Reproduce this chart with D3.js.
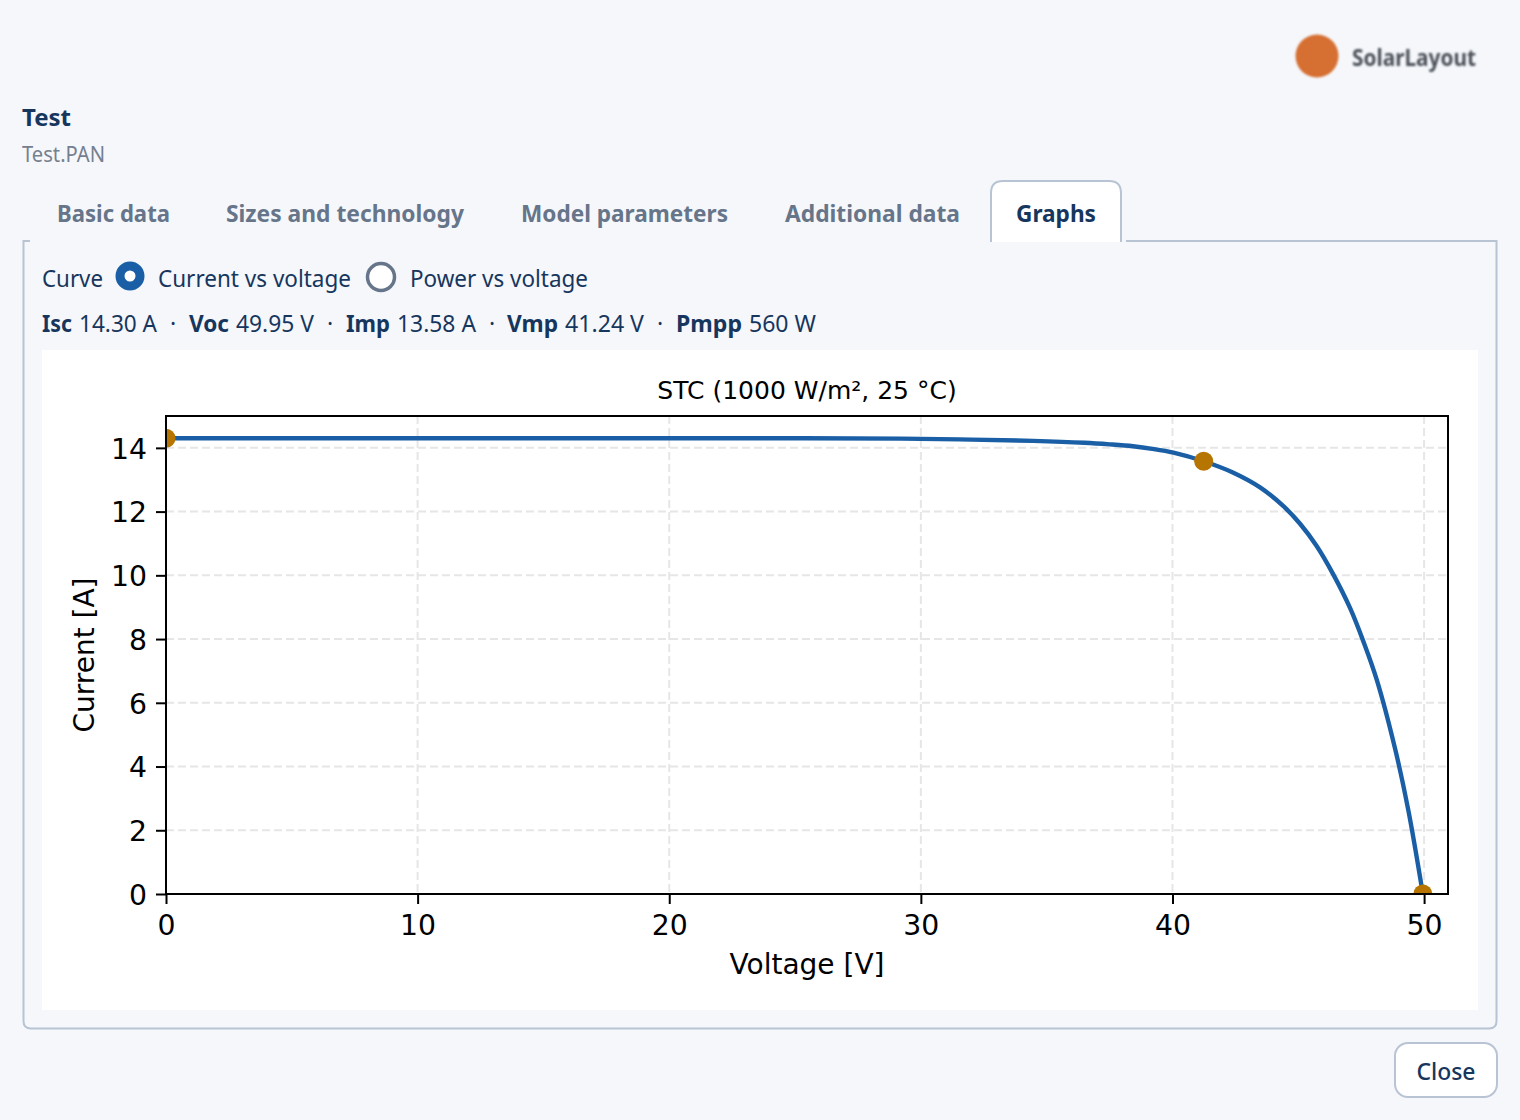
<!DOCTYPE html>
<html><head><meta charset="utf-8">
<script src="https://cdn.jsdelivr.net/npm/d3@7"></script>
<style>
html,body{margin:0;padding:0;background:#f5f7fb;overflow:hidden}
svg{display:block}
.ui{font-family:"Noto Sans",sans-serif}
.mpl{font-family:"DejaVu Sans",sans-serif;fill:#000}
</style></head><body>
<svg id="c" width="1520" height="1120"></svg>
<script>
const voltage=[0,5,10,15,20,25,29.2,32,34.46,36.5,37.5,38.43,39.2,40.04,41.24,42.42,43.48,44.41,45.07,45.73,46.39,47.06,47.59,48.12,48.85,49.38,49.95];
const current=[14.30,14.30,14.30,14.30,14.30,14.30,14.29,14.26,14.22,14.16,14.11,14.05,13.97,13.85,13.58,13.22,12.76,12.17,11.62,10.92,10.03,8.97,7.92,6.72,4.55,2.6,0];
const mppV=[0,41.24,49.95];
const mppI=[14.30,13.58,0];
const xTicks=[0,10,20,30,40,50];
const yTicks=[0,2,4,6,8,10,12,14];
const tabs=["Basic data","Sizes and technology","Model parameters","Additional data","Graphs"];
const stats=[["Isc","14.30 A"],["Voc","49.95 V"],["Imp","13.58 A"],["Vmp","41.24 V"],["Pmpp","560 W"]];
const svg=d3.select("#c");
const navy="#17365d",grey="#667589",border="#b8c4d4";
function t(x,y,s,size,weight,fill,len,anchor){
  const n=svg.append("text").attr("class","ui").attr("x",x).attr("y",y).attr("font-size",size)
    .attr("font-weight",weight||400).attr("fill",fill||navy).attr("text-anchor",anchor||"start").text(s);
  if(len)n.attr("textLength",len).attr("lengthAdjust","spacingAndGlyphs");
  return n;
}
// logo
const defs=svg.append("defs");
defs.append("filter").attr("id","b").append("feGaussianBlur").attr("stdDeviation",0.9);
svg.append("circle").attr("cx",1317).attr("cy",56).attr("r",21.5).attr("fill","#d57033").attr("filter","url(#b)");
t(1352,66,"SolarLayout",23,700,"#4a4f57",124).attr("style","filter:blur(.9px)");
// heading
t(22,126,"Test",24,700,navy,49);
t(22,162,"Test.PAN",21,400,"#75808f",83);
// panel
svg.append("path").attr("fill","none").attr("stroke",border).attr("stroke-width",2)
  .attr("d","M30 241H23.5V1021Q23.5 1028.5 31 1028.5H1489Q1496.5 1028.5 1496.5 1021V241H1126");
// tabs
const tabX=[57,226,521,785,1016],tabW=[113,238,207,175,80];
svg.append("path").attr("fill","#fff").attr("stroke",border).attr("stroke-width",2)
  .attr("d","M991 242V193Q991 181 1003 181H1109Q1121 181 1121 193V242");
tabs.forEach((s,i)=>t(tabX[i],222,s,23,700,i===4?navy:grey,tabW[i]));
// radios
t(42,287,"Curve",23,400,navy,61);
svg.append("circle").attr("cx",130).attr("cy",276).attr("r",10).attr("fill","#fff").attr("stroke","#1a5fa6").attr("stroke-width",9);
t(158,287,"Current vs voltage",23,400,navy,193);
svg.append("circle").attr("cx",381).attr("cy",277).attr("r",13.5).attr("fill","#fff").attr("stroke",grey).attr("stroke-width",3.5);
t(410,287,"Power vs voltage",23,400,navy,178);
// stats
const sx=[[42,30,79,78],[189,40,236,78],[346,44,397,79],[507,51,565,79],[676,66,749,67]];
stats.forEach((d,i)=>{
  t(sx[i][0],332,d[0],23,700,navy,sx[i][1]);
  t(sx[i][2],332,d[1],23,400,navy,sx[i][3]);
  if(i<4)t(sx[i][2]+sx[i][3]+16,332,"·",23,400,navy,null,"middle");
});
// chart
svg.append("rect").attr("x",42).attr("y",350).attr("width",1436).attr("height",660).attr("fill","#fff");
const x=d3.scaleLinear().domain([0,50.95]).range([166,1448]);
const y=d3.scaleLinear().domain([0,15]).range([894,416]);
defs.append("clipPath").attr("id","p").append("rect").attr("x",166).attr("y",416).attr("width",1282).attr("height",478);
const g=svg.append("g").attr("clip-path","url(#p)");
g.selectAll("line.gx").data(xTicks).join("line").attr("x1",d=>x(d)).attr("x2",d=>x(d)).attr("y1",416).attr("y2",894)
  .attr("stroke","#e6e6e6").attr("stroke-width",2).attr("stroke-dasharray","8 4");
g.selectAll("line.gy").data(yTicks).join("line").attr("y1",d=>y(d)).attr("y2",d=>y(d)).attr("x1",166).attr("x2",1448)
  .attr("stroke","#e6e6e6").attr("stroke-width",2).attr("stroke-dasharray","8 4");
const pts=voltage.map((v,i)=>[v,current[i]]);
g.append("path").attr("fill","none").attr("stroke","#1a5fa6").attr("stroke-width",4.4)
  .attr("d",d3.line().x(d=>x(d[0])).y(d=>y(d[1])).curve(d3.curveCatmullRom.alpha(0.5))(pts));
g.selectAll("circle").data(mppV).join("circle").attr("cx",d=>x(d)).attr("cy",(d,i)=>y(mppI[i])).attr("r",9.5).attr("fill","#b57500");
const ax=svg.append("g").attr("transform","translate(0,894)").call(d3.axisBottom(x).tickValues(xTicks).tickSize(10).tickSizeOuter(0).tickPadding(11));
const ay=svg.append("g").attr("transform","translate(166,0)").call(d3.axisLeft(y).tickValues(yTicks).tickSize(10).tickSizeOuter(0).tickPadding(9));
[ax,ay].forEach(a=>{a.select(".domain").remove();a.selectAll("line").attr("stroke","#000").attr("stroke-width",2);
  a.selectAll("text").attr("class","mpl").attr("font-size",28.3).attr("fill","#000");});
ay.selectAll("text").attr("dy","0.36em");
svg.append("rect").attr("x",166).attr("y",416).attr("width",1282).attr("height",478).attr("fill","none").attr("stroke","#000").attr("stroke-width",2);
svg.append("text").attr("class","mpl").attr("x",807).attr("y",399).attr("text-anchor","middle").attr("font-size",25).text("STC (1000 W/m², 25 °C)");
svg.append("text").attr("class","mpl").attr("x",807).attr("y",974).attr("text-anchor","middle").attr("font-size",28).text("Voltage [V]");
svg.append("text").attr("class","mpl").attr("transform","translate(94,655) rotate(-90)").attr("text-anchor","middle").attr("font-size",28).text("Current [A]");
// close
svg.append("rect").attr("x",1395).attr("y",1043).attr("width",102).attr("height",54).attr("rx",13).attr("fill","#fff").attr("stroke",border).attr("stroke-width",2);
t(1446,1080,"Close",23,500,navy,59,"middle");
</script></body></html>
